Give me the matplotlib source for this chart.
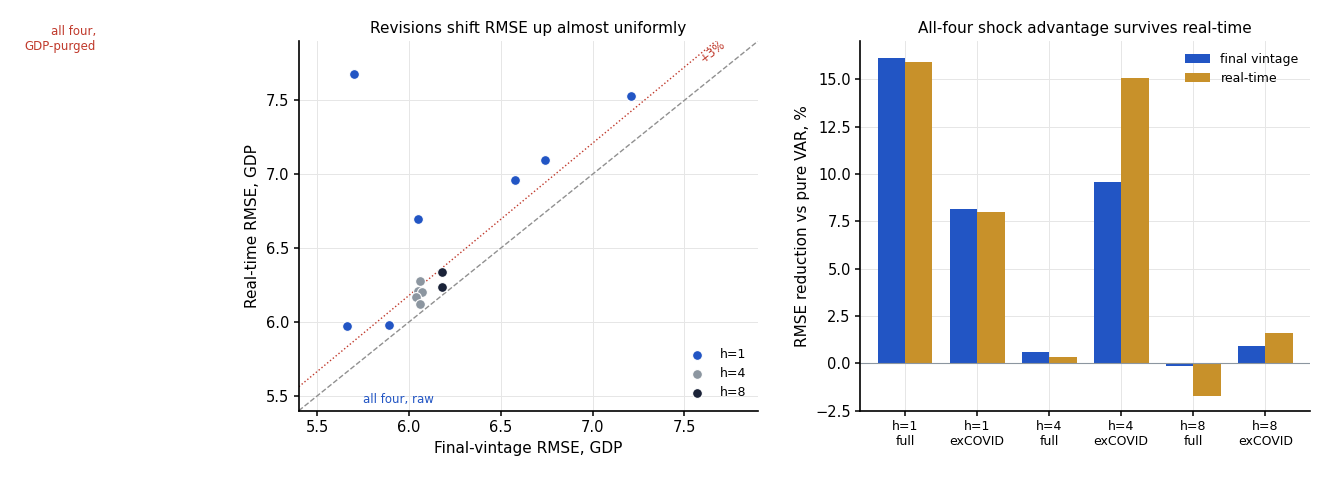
import matplotlib.pyplot as plt
import numpy as np

h1_x = [5.70, 7.21, 6.74, 6.58, 6.05, 5.66, 5.89]
h1_y = [7.68, 7.53, 7.10, 6.96, 6.70, 5.97, 5.98]
h4_x = [6.06, 6.05, 6.07, 6.04, 6.06]
h4_y = [6.28, 6.21, 6.20, 6.17, 6.12]
h8_x = [6.18, 6.18]
h8_y = [6.34, 6.24]

bar_labels = ["h=1\nfull", "h=1\nexCOVID", "h=4\nfull", "h=4\nexCOVID", "h=8\nfull", "h=8\nexCOVID"]
final_v = [16.1, 8.15, 0.6, 9.55, -0.15, 0.9]
real_v = [15.9, 8.0, 0.35, 15.05, -1.7, 1.6]

blue = "#2255c4"; gold = "#c8912a"; grey = "#8c96a0"; navy = "#1a2238"; red = "#c0392b"

fig = plt.figure(figsize=(13.34, 4.86), dpi=100)
ax1 = fig.add_axes([0.224, 0.155, 0.344, 0.76])
ax2 = fig.add_axes([0.645, 0.155, 0.337, 0.76])

for ax in (ax1, ax2):
    ax.grid(True, color="#e6e6e6", lw=0.7)
    ax.set_axisbelow(True)
    for s in ("top", "right"):
        ax.spines[s].set_visible(False)
    for s in ("left", "bottom"):
        ax.spines[s].set_linewidth(1.2)
    ax.tick_params(labelsize=10.5, width=1.1)

xx = np.array([5.4, 7.9])
ax1.plot(xx, xx, ls="--", color="#909090", lw=1)
ax1.plot(xx, xx * 1.03, ls=":", color=red, lw=1)
ax1.scatter(h1_x, h1_y, color=blue, s=50, edgecolor="white", lw=0.8, label="h=1", zorder=3)
ax1.scatter(h4_x, h4_y, color=grey, s=50, edgecolor="white", lw=0.8, label="h=4", zorder=3)
ax1.scatter(h8_x, h8_y, color=navy, s=50, edgecolor="white", lw=0.8, label="h=8", zorder=3)
ax1.set_xlim(5.4, 7.9); ax1.set_ylim(5.4, 7.9)
ax1.set_xticks([5.5, 6.0, 6.5, 7.0, 7.5]); ax1.set_yticks([5.5, 6.0, 6.5, 7.0, 7.5])
ax1.set_xlabel("Final-vintage RMSE, GDP", fontsize=11)
ax1.set_ylabel("Real-time RMSE, GDP", fontsize=11)
ax1.set_title("Revisions shift RMSE up almost uniformly", fontsize=11)
ax1.text(7.57, 7.76, "+3%", color=red, fontsize=8.5, rotation=38)
ax1.text(5.75, 5.45, "all four, raw", color=blue, fontsize=8.5)
fig.text(0.072, 0.92, "all four,\nGDP-purged", color=red, fontsize=8.5, ha="right", va="center")
ax1.legend(loc="lower right", frameon=False, fontsize=9)

x = np.arange(len(bar_labels)); w = 0.38
ax2.bar(x - w/2, final_v, w, color=blue, label="final vintage")
ax2.bar(x + w/2, real_v, w, color=gold, label="real-time")
ax2.axhline(0, color="#8c96a0", lw=0.8)
ax2.set_xticks(x); ax2.set_xticklabels(bar_labels, fontsize=9)
ax2.set_ylim(-2.5, 17)
ax2.set_xlim(-0.62, 5.62)
ax2.set_ylabel("RMSE reduction vs pure VAR, %", fontsize=11)
ax2.set_title("All-four shock advantage survives real-time", fontsize=11)
ax2.legend(loc="upper right", frameon=False, fontsize=9)

fig.savefig("out.png", dpi=100)
